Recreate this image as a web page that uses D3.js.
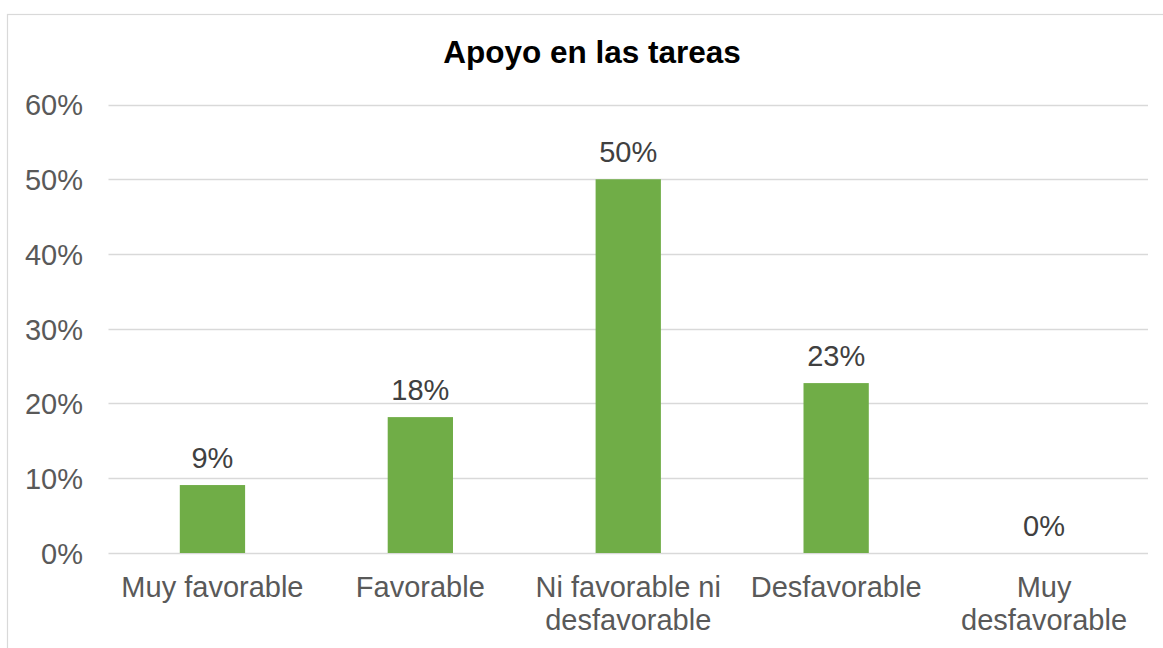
<!DOCTYPE html>
<html>
<head>
<meta charset="utf-8">
<script src="https://cdn.jsdelivr.net/npm/d3@7"></script>
<style>
  html, body { margin: 0; padding: 0; background: #fff; }
  svg { display: block; }
</style>
</head>
<body>
<svg id="chart" width="1163" height="648"></svg>
<script>
const title = "Apoyo en las tareas";
const categories = [
  ["Muy favorable"],
  ["Favorable"],
  ["Ni favorable ni", "desfavorable"],
  ["Desfavorable"],
  ["Muy", "desfavorable"]
];
const values = [0.0909, 0.1818, 0.50, 0.2273, 0];
const valueLabels = ["9%", "18%", "50%", "23%", "0%"];
const yTicks = [0, 0.1, 0.2, 0.3, 0.4, 0.5, 0.6];

const svg = d3.select("#chart");
const W = 1163, H = 648;
const font = "'Liberation Sans', Arial, sans-serif";

// chart border
svg.append("rect")
  .attr("x", 7.5).attr("y", 14.5)
  .attr("width", W + 20).attr("height", H + 20)
  .attr("fill", "#fff").attr("stroke", "#d9d9d9").attr("stroke-width", 1.2);

const x = d3.scaleBand()
  .domain(categories.map((d, i) => i))
  .range([108.5, 1148])
  .padding(0);
const y = d3.scaleLinear().domain([0, 0.6]).range([553, 104.5]);

// gridlines
svg.append("g").selectAll("line")
  .data(yTicks).join("line")
  .attr("x1", 108.5).attr("x2", 1148)
  .attr("y1", d => Math.round(y(d)) + 0.5).attr("y2", d => Math.round(y(d)) + 0.5)
  .attr("stroke", "#d9d9d9").attr("stroke-width", 1.3);

// y axis labels
const yAxis = d3.axisLeft(y).tickValues(yTicks).tickFormat(d3.format(".0%")).tickSize(0).tickPadding(0);
const gy = svg.append("g").attr("transform", "translate(83,0)").call(yAxis);
gy.select(".domain").remove();
gy.selectAll("text")
  .attr("fill", "#595959")
  .attr("font-family", font)
  .attr("font-size", 29)
  .attr("dy", "0.36em");

// bars
const barW = 65.3;
svg.append("g").selectAll("rect")
  .data(values).join("rect")
  .attr("x", (d, i) => x(i) + x.bandwidth() / 2 - barW / 2)
  .attr("y", d => y(d))
  .attr("width", barW)
  .attr("height", d => y(0) - y(d))
  .attr("fill", "#70ad47");

// value labels
svg.append("g").selectAll("text")
  .data(values).join("text")
  .attr("x", (d, i) => x(i) + x.bandwidth() / 2)
  .attr("y", d => y(d) - 17.5)
  .attr("text-anchor", "middle")
  .attr("fill", "#404040")
  .attr("font-family", font)
  .attr("font-size", 29)
  .text((d, i) => valueLabels[i]);

// category labels
const gx = svg.append("g");
categories.forEach((lines, i) => {
  const t = gx.append("text")
    .attr("x", x(i) + x.bandwidth() / 2)
    .attr("y", 597)
    .attr("text-anchor", "middle")
    .attr("fill", "#595959")
    .attr("font-family", font)
    .attr("font-size", 29);
  lines.forEach((ln, j) => {
    t.append("tspan")
      .attr("x", x(i) + x.bandwidth() / 2)
      .attr("dy", j === 0 ? 0 : 33)
      .text(ln);
  });
});

// title
svg.append("text")
  .attr("x", 592).attr("y", 63)
  .attr("text-anchor", "middle")
  .attr("font-family", font)
  .attr("font-weight", "bold")
  .attr("font-size", 31.5)
  .attr("fill", "#000")
  .text(title);
</script>
</body>
</html>
